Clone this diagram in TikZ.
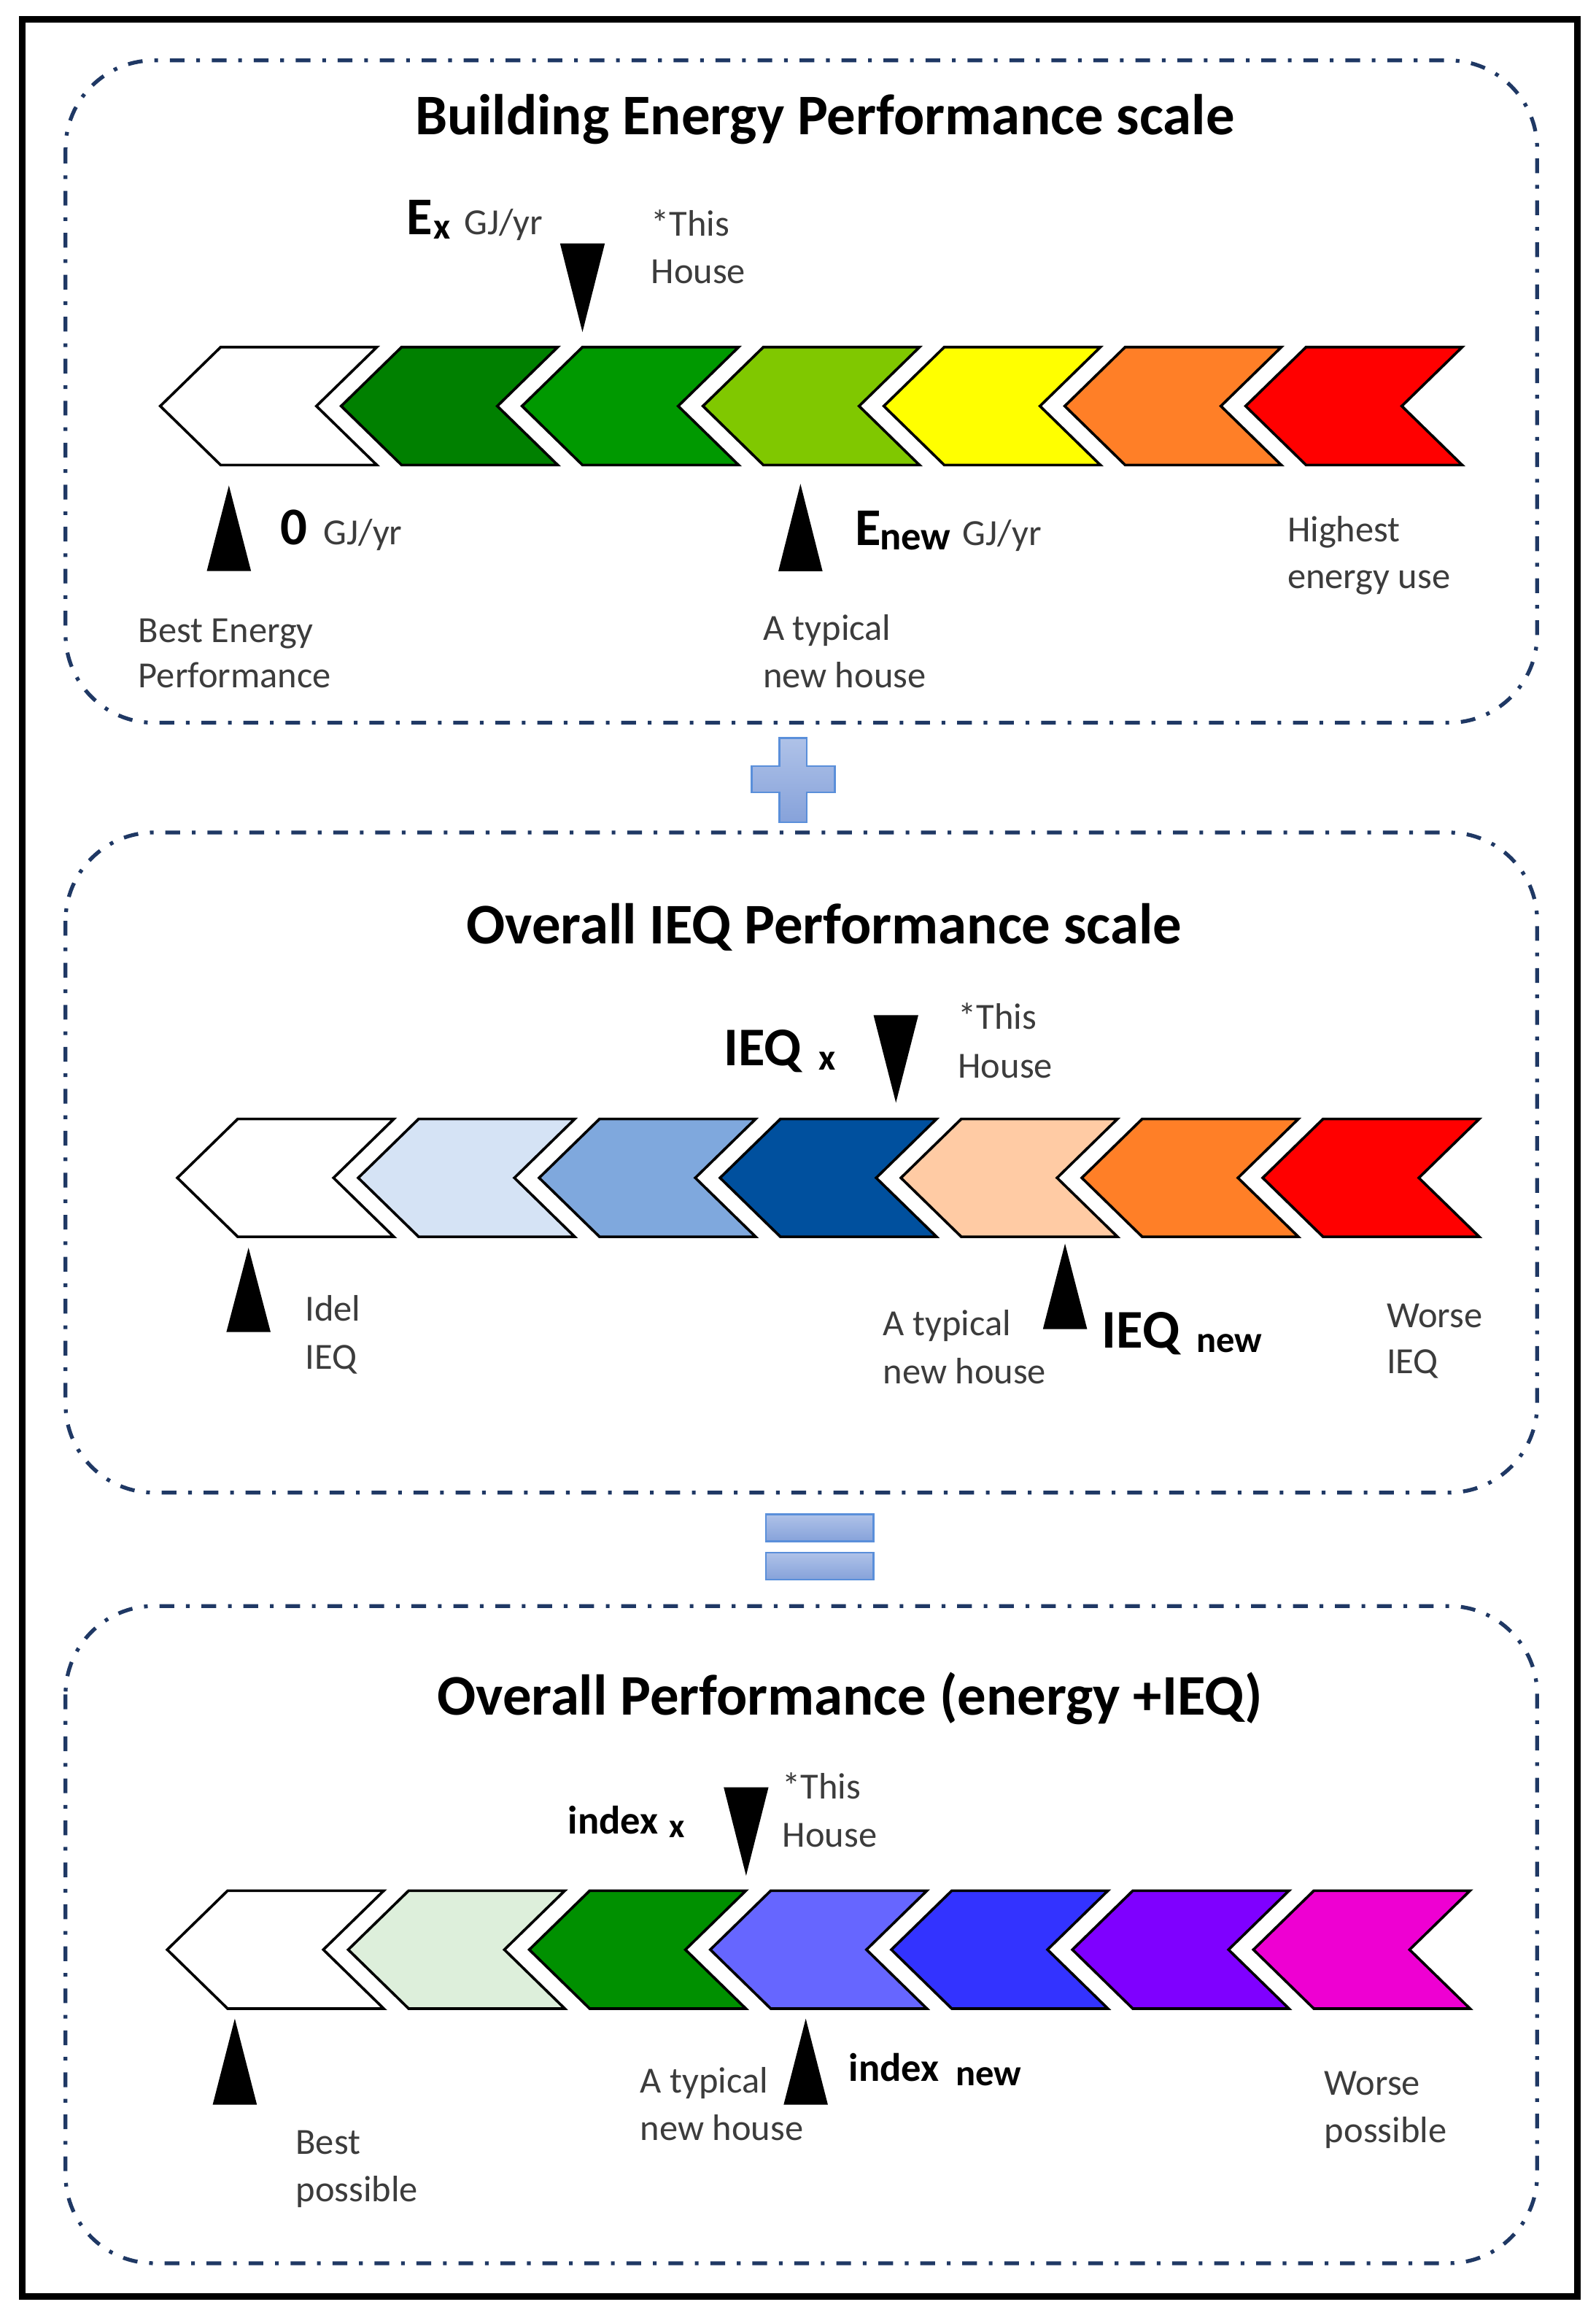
\documentclass[tikz,border=0pt]{standalone}
\usepackage{fontspec}
\setmainfont{Carlito}
\definecolor{navy}{HTML}{1F3864}
\definecolor{labelgray}{HTML}{3C3C3C}
\definecolor{eA}{HTML}{008000}
\definecolor{eB}{HTML}{009900}
\definecolor{eC}{HTML}{80C800}
\definecolor{eD}{HTML}{FFFF00}
\definecolor{eE}{HTML}{FF7F27}
\definecolor{eF}{HTML}{FF0000}
\definecolor{qA}{HTML}{D5E3F5}
\definecolor{qB}{HTML}{7FA8DD}
\definecolor{qC}{HTML}{00509E}
\definecolor{qD}{HTML}{FFCBA4}
\definecolor{oA}{HTML}{DDEFDB}
\definecolor{oB}{HTML}{009000}
\definecolor{oC}{HTML}{6666FF}
\definecolor{oD}{HTML}{3333FF}
\definecolor{oE}{HTML}{7F00FF}
\definecolor{oF}{HTML}{EE00D2}
\definecolor{symtop}{HTML}{AFC2E8}
\definecolor{symbot}{HTML}{86A2DA}
\definecolor{symline}{HTML}{5A8FDA}
\tikzset{
  chev/.style={draw=black, line width=1.8pt, line join=miter},
  marker/.style={fill=black},
  lbl/.style={anchor=base west, inner sep=0pt, text=labelgray, font=\fontsize{25}{30}\selectfont},
  bigb/.style={anchor=base west, inner sep=0pt, text=black, font=\fontsize{36}{42}\selectfont\bfseries},
  subb/.style={anchor=base west, inner sep=0pt, text=black, font=\fontsize{25}{30}\selectfont\bfseries},
  midb/.style={anchor=base west, inner sep=0pt, text=black, font=\fontsize{27}{32}\selectfont\bfseries},
  ttl/.style={anchor=base, inner sep=0pt, text=black, font=\fontsize{39}{46}\selectfont\bfseries},
  dbox/.style={draw=navy, line width=2.6pt, rounded corners=60pt, dash pattern=on 10pt off 8pt on 2.5pt off 8pt},
  sym/.style={top color=symtop, bottom color=symbot, draw=symline, line width=1.2pt},
}
\newcommand{\mychev}[3]{\filldraw[chev, fill=#3] (#1,#2) -- ++(41,-40) -- ++(106,0) -- ++(-41,40) -- ++(41,40) -- ++(-106,0) -- cycle;}
\newcommand{\uptri}[3]{\fill[marker] (#1,#2) -- (#1-15,#3) -- (#1+15,#3) -- cycle;}
\newcommand{\downtri}[3]{\fill[marker] (#1,#2) -- (#1-15.2,#3) -- (#1+15.2,#3) -- cycle;}
\begin{document}
\begin{tikzpicture}[x=1pt,y=-1pt]
\useasboundingbox (0,0) rectangle (1083,1573.2);
\fill[white] (0,0) rectangle (1083,1573.2);
% outer frame
\draw[line width=4.5pt] (15.3,13.3) rectangle (1070.6,1558.7);
% dashed panels
\draw[dbox] (44.5,41) rectangle (1043.5,490.5);
\draw[dbox] (44.5,565) rectangle (1043.5,1013);
\draw[dbox] (44.5,1090) rectangle (1043.5,1536);

% ---------- panel 1 ----------
\node[ttl] (t1) at (560,91.6) {Building Energy Performance scale};
\foreach \c [count=\i from 0] in {white,eA,eB,eC,eD,eE,eF}{\mychev{108.8+122.8*\i}{275.6}{\c}}
\downtri{395.4}{225.4}{165.2}
\uptri{155.4}{329.5}{387.5}
\uptri{543.4}{328.4}{387.7}
\node[bigb] (ex) at (276,159.1) {E};
\node[subb] (exs) at (294,162) {x};
\node[lbl] (exu) at (314.9,159.1) {GJ/yr};
\node[lbl] (th1a) at (441.8,160.1) {*This};
\node[lbl] (th1b) at (441.8,192.3) {House};
\node[bigb] (zero) at (190.3,369.5) {0};
\node[lbl] (zerou) at (219.5,369.5) {GJ/yr};
\node[lbl] (be1a) at (93.8,435.9) {Best Energy};
\node[lbl] (be1b) at (93.8,466.8) {Performance};
\node[bigb] (en) at (580.3,370) {E};
\node[subb, font=\fontsize{27}{32}\selectfont\bfseries] (ens) at (597,372.9) {new};
\node[lbl] (enu) at (653.3,370) {GJ/yr};
\node[lbl] (ty1a) at (517.8,434.5) {A typical};
\node[lbl] (ty1b) at (517.8,466.7) {new house};
\node[lbl] (hi1a) at (873.8,367.9) {Highest};
\node[lbl] (hi1b) at (873.8,399.5) {energy use};

% plus sign
\path[sym] (529.1,500.8) -- (547.7,500.8) -- (547.7,519.8) -- (566.7,519.8) -- (566.7,537.8) -- (547.7,537.8) -- (547.7,558.2) -- (529.1,558.2) -- (529.1,537.8) -- (510.2,537.8) -- (510.2,519.8) -- (529.1,519.8) -- cycle;

% ---------- panel 2 ----------
\node[ttl] (t2) at (559.5,640.4) {Overall IEQ Performance scale};
\foreach \c [count=\i from 0] in {white,qA,qB,qC,qD,eE,eF}{\mychev{120.4+122.8*\i}{799.4}{\c}}
\downtri{608.2}{748.4}{689}
\uptri{168.7}{846.8}{904}
\uptri{723}{844}{902}
\node[bigb, font=\fontsize{37}{42}\selectfont\bfseries] (iq) at (491.4,723.1) {IEQ};
\node[subb] (iqs) at (555.7,726.2) {x};
\node[lbl] (th2a) at (650.2,698.4) {*This};
\node[lbl] (th2b) at (650.2,731.4) {House};
\node[lbl] (id2a) at (207,896.5) {Idel};
\node[lbl] (id2b) at (207,929.2) {IEQ};
\node[lbl] (ty2a) at (599.3,906.5) {A typical};
\node[lbl] (ty2b) at (599.3,939.2) {new house};
\node[bigb, font=\fontsize{37}{42}\selectfont\bfseries] (iqn) at (748,915) {IEQ};
\node[subb] (iqns) at (811.9,917.9) {new};
\node[lbl] (wo2a) at (941.2,900.8) {Worse};
\node[lbl] (wo2b) at (941.2,932) {IEQ};

% equals sign
\path[sym] (519.9,1027.7) rectangle (592.9,1046.1);
\path[sym] (519.9,1053.7) rectangle (592.9,1072.1);

% ---------- panel 3 ----------
\node[ttl] (t3) at (577,1164) {Overall Performance (energy +IEQ)};
\foreach \c [count=\i from 0] in {white,oA,oB,oC,oD,oE,oF}{\mychev{113.5+122.9*\i}{1323.2}{\c}}
\downtri{506.5}{1273}{1213}
\uptri{159.4}{1370}{1428.4}
\uptri{547}{1370}{1428.4}
\node[midb] (ix) at (385.5,1244.6) {index};
\node[subb, font=\fontsize{23}{28}\selectfont\bfseries] (ixs) at (454,1247) {x};
\node[lbl] (th3a) at (531,1220.9) {*This};
\node[lbl] (th3b) at (531,1253.4) {House};
\node[lbl] (bp3a) at (200.6,1461.8) {Best};
\node[lbl] (bp3b) at (200.6,1494) {possible};
\node[lbl] (ty3a) at (434.5,1420.3) {A typical};
\node[lbl] (ty3b) at (434.5,1452.5) {new house};
\node[midb] (ixn) at (576,1412.3) {index};
\node[subb] (ixns) at (648.5,1415.3) {new};
\node[lbl] (wo3a) at (899,1422) {Worse};
\node[lbl] (wo3b) at (899,1454) {possible};
\end{tikzpicture}
\end{document}
